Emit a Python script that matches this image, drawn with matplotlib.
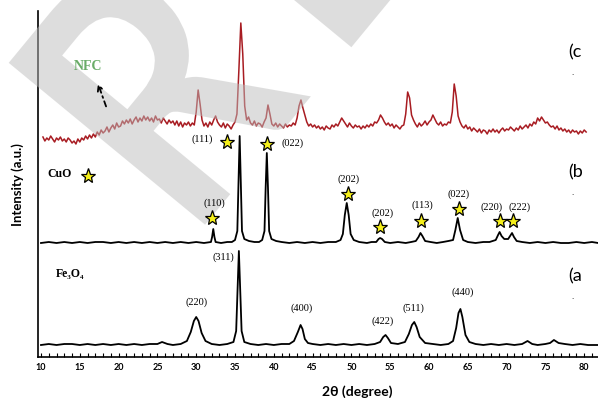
import matplotlib
matplotlib.use("Agg")
import matplotlib.pyplot as plt
import matplotlib.transforms as mtransforms
import numpy as np
from matplotlib.textpath import TextPath
from matplotlib.patches import PathPatch
from matplotlib.font_manager import FontProperties

# (a) Fe3O4 : 2theta / intensite au-dessus de la ligne de base
fe_2theta = [10, 11, 12, 13, 14, 15, 16, 17, 18, 19, 20, 21, 22, 23, 24, 25, 25.6, 26.3, 27, 28,
             28.8, 29.3, 29.7, 30.0, 30.3, 30.7, 31.2, 32, 33, 34, 34.8, 35.15, 35.35, 35.5, 35.65,
             35.85, 36.2, 37, 38, 39, 40, 41, 42, 42.6, 43.1, 43.45, 43.7, 44.0, 44.4, 45, 46, 47,
             48, 49, 50, 51, 52, 53, 53.7, 54.1, 54.4, 54.7, 55.1, 56, 56.9, 57.4, 57.8, 58.1, 58.4,
             58.8, 59.5, 60.5, 61.5, 62.5, 63.1, 63.5, 63.8, 64.05, 64.3, 64.7, 65.2, 66, 67, 68, 69,
             70, 71, 72, 72.7, 73.3, 74, 75, 75.6, 76.1, 76.7, 77.5, 78.5, 79.5, 80.5, 81.8]
fe_counts = [0, 1, 0, 1, 1, 0, 1, 0, 1, 0, 1, 0, 1, 0, 1, 1, 3, 1, 0, 1,
             4, 13, 24, 28, 24, 12, 4, 1, 0, 1, 3, 14, 60, 94, 60,
             14, 3, 1, 0, 1, 0, 1, 1, 4, 13, 20, 16, 6, 2, 1, 0, 1,
             0, 1, 0, 1, 0, 1, 3, 8, 10, 7, 2, 1, 3, 11, 20, 23, 18,
             8, 2, 1, 0, 1, 4, 17, 32, 36, 28, 10, 3, 1, 0, 1, 0,
             1, 0, 1, 4, 1, 0, 1, 2, 5, 2, 1, 0, 1, 0, 0]
fe_hkl = ["(220)", "(311)", "(400)", "(422)", "(511)", "(440)"]
fe_hkl_2theta = [30.0, 35.5, 43.45, 54.4, 58.1, 64.05]
fe_hkl_counts = [28, 94, 20, 10, 23, 36]

# (b) CuO
cuo_2theta = [10, 11, 12, 13, 14, 15, 16, 17, 18, 19, 20, 21, 22, 23, 24, 25, 26, 27, 28, 29, 30, 31,
              31.9, 32.05, 32.2, 32.35, 32.5, 33.2, 34, 34.6, 35.0, 35.3, 35.45, 35.6, 35.75, 35.9,
              36.2, 36.8, 37.5, 38.1, 38.5, 38.8, 38.95, 39.1, 39.25, 39.4, 39.7, 40.3, 41, 42, 43,
              44, 45, 46, 47, 48, 48.6, 48.9, 49.15, 49.4, 49.65, 49.9, 50.3, 51, 52, 52.6, 53.2,
              53.5, 53.7, 53.95, 54.3, 55, 56, 57, 57.7, 58.3, 58.65, 58.9, 59.15, 59.5, 60.2, 61,
              61.8, 62.5, 63.1, 63.4, 63.7, 64.0, 64.4, 65, 66, 67, 67.8, 68.6, 68.9, 69.1, 69.35,
              69.7, 70.2, 70.45, 70.7, 70.95, 71.3, 72, 73, 74, 75, 76, 77, 78, 79, 80, 81, 81.8]
cuo_counts = [0, 1, 0, 1, 0, 1, 0, 1, 1, 0, 1, 0, 1, 0, 1, 0, 1, 0, 1, 0, 1, 0,
              1, 6, 14, 6, 1, 0, 1, 1, 3, 12, 60, 107, 60, 12,
              4, 2, 1, 1, 3, 12, 55, 90, 55, 12, 4, 2, 1, 0, 1,
              0, 1, 0, 1, 1, 3, 9, 28, 40, 28, 9, 3, 1, 0, 1, 1,
              4, 5, 4, 1, 0, 1, 0, 1, 2, 6, 10, 7, 2, 1, 0,
              1, 2, 3, 13, 25, 13, 3, 1, 0, 1, 1, 3, 8, 11, 7,
              4, 4, 7, 10, 6, 2, 1, 0, 1, 0, 1, 0, 0, 1, 0, 1, 0]
cuo_hkl = ["(110)", "(111)", "(022)", "(202)", "(202)", "(113)", "(022)", "(220)", "(222)"]
cuo_star_2theta = [32.1, 34.0, 39.1, 49.6, 53.7, 59.0, 63.9, 69.1, 70.8]
cuo_star_counts = [25, 101, 99, 49, 16, 22, 34, 22, 22]

# (c) NFC, pas de 0.25 degre a partir de 10.25
nfc_start, nfc_step = 10.25, 0.25
nfc_counts = [
    5, 1, 4, 2,  6, 3, 0, 4,  2, 5, 1, 3,  0, 4, 2, -1,  1, -2, 3, 0,
    4, 2, 6, 3,  7, 4, 8, 5,  10, 7, 12, 9,  11, 15, 10, 14,  17, 13, 19, 15,
    16, 21, 18, 22,  19, 23, 18, 22,  25, 20, 24, 21,  26, 22, 25, 21,  24, 20, 26, 22,
    23, 19, 24, 21,  18, 22, 19, 21,  17, 21, 16, 20,  15, 19, 17, 20,  16, 19, 17, 30,
    52, 38, 22, 16,  19, 15, 20, 17,  22, 26, 20, 17,  15, 19, 14, 18,  16, 13, 17, 20,
    28, 72, 119, 88,  36, 22, 25, 19,  17, 21, 16, 19,  18, 15, 20, 24,  37, 28, 18, 16,
    19, 15, 18, 16,  14, 18, 15, 17,  16, 19, 17, 24,  36, 42, 34, 27,  20, 16, 18, 15,
    17, 14, 16, 13,  15, 12, 16, 14,  13, 17, 15, 18,  16, 20, 24, 21,  18, 15, 19, 16,
    14, 17, 15, 16,  13, 16, 14, 17,  15, 18, 16, 20,  19, 22, 27, 24,  20, 17, 19, 16,
    18, 14, 17, 15,  13, 16, 17, 28,  50, 44, 27, 22,  18, 15, 19, 16,  18, 21, 17, 20,
    22, 27, 23, 19,  17, 20, 16, 18,  17, 20, 19, 30,  58, 46, 26, 20,  16, 14, 17, 13,
    15, 11, 14, 12,  10, 13, 9, 12,  11, 8, 12, 10,  13, 10, 12, 9,  12, 14, 11, 13,
    12, 15, 13, 11,  14, 12, 16, 13,  15, 17, 14, 18,  16, 20, 18, 24,  21, 25, 22, 19,
    20, 17, 15, 16,  13, 16, 12, 14,  11, 13, 10, 12,  9, 12, 10, 11,  8, 11, 9, 12,
    10]

off_a, off_b, off_c = 12, 114, 215


def deg(px):
    # position horizontale (pixel de l'image) -> 2theta
    return 10 + (px - 41) / 7.76


def yy(py):
    return 357 - py


fig = plt.figure(figsize=(5.98, 3.98), dpi=100)
ax = fig.add_axes([38 / 598, 41 / 398, 560 / 598, 346 / 398])
ax.set_xlim(deg(38), deg(598))
ax.set_ylim(0, 346)

nfc_x = nfc_start + nfc_step * np.arange(len(nfc_counts))
ax.plot(nfc_x, np.array(nfc_counts) + off_c, color="#a81c22", lw=1.1, zorder=2)
ax.plot(cuo_2theta, np.array(cuo_counts) + off_b, color="black", lw=1.3, zorder=4)
ax.plot(fe_2theta, np.array(fe_counts) + off_a, color="black", lw=1.3, zorder=4)

serif = ["Liberation Serif", "DejaVu Serif"]
ax.plot(cuo_star_2theta, np.array(cuo_star_counts) + off_b, ls="none", marker="*",
        ms=11, mfc="#f5ef1a", mec="black", mew=0.9, zorder=6)

cuo_offsets = [(2, 15), (-25, 3), (26, 1), (0, 15), (2, 14), (1, 16), (-1, 15), (-8, 14), (7, 14)]
for lab, x, c, off in zip(cuo_hkl, cuo_star_2theta, cuo_star_counts, cuo_offsets):
    ax.annotate(lab, (x, c + off_b), xytext=off, textcoords="offset pixels",
                ha="center", va="center", fontsize=7.5, family=serif, zorder=7)

fe_offsets = [(0, 10), (-16, -11), (1, 12), (-3, 9), (-1, 9), (2, 12)]
for lab, x, c, off in zip(fe_hkl, fe_hkl_2theta, fe_hkl_counts, fe_offsets):
    ax.annotate(lab, (x, c + off_a), xytext=off, textcoords="offset pixels",
                ha="center", va="bottom", fontsize=7.5, family=serif, zorder=7)

# legendes des courbes
ax.text(deg(60), yy(174), "CuO", fontsize=8.5, fontweight="bold", family=serif,
        ha="center", va="center", zorder=7)
ax.plot([deg(88)], [yy(176)], marker="*", ms=11, mfc="#f5ef1a", mec="black", mew=0.9, zorder=7)
ax.text(deg(70), yy(274), "Fe₃O₄", fontsize=8.5, fontweight="bold", family=serif,
        ha="center", va="center", zorder=7)
ax.text(deg(88), yy(67), "NFC", fontsize=10, fontweight="bold", family=serif,
        color="#6aac68", ha="center", va="center", zorder=7)
ax.annotate("", xy=(deg(97), yy(81)), xytext=(deg(107), yy(109)), zorder=7,
            arrowprops=dict(arrowstyle="->", lw=1.3, ls=(0, (3, 2, 1, 2)), color="black"))

for lab, py in [("(c", 52), ("(b", 172), ("(a", 276)]:
    ax.text(deg(568), yy(py), lab, fontsize=13, family=["Lato", "DejaVu Sans"],
            ha="left", va="center")
    ax.text(deg(572), yy(py + 21), ".", fontsize=5, ha="center", va="center")

# filigrane : lettres R et E tournees, en pixels de l'image
fp = FontProperties(family="Lato", weight="bold")
r_glyph = TextPath((0, 0), "R", size=352, prop=fp)
e_glyph = TextPath((0, 0), "E", size=352, prop=fp)
r_x0 = r_glyph.vertices[:, 0].min()
sx = 190 / (r_glyph.vertices[:, 0].max() - r_x0)
e_x0 = e_glyph.vertices[:, 0].min()
for glyph, gx0, start in [(r_glyph, r_x0, 0), (e_glyph, e_x0, 230)]:
    tr = (mtransforms.Affine2D().translate(-gx0, 0).scale(sx, 1).translate(start, 0)
          .rotate_deg(50.5).translate(190, 398 - 243))
    patch = PathPatch(glyph, transform=tr, facecolor="#bdbdbd", edgecolor="none",
                      alpha=0.5, zorder=3)
    ax.add_artist(patch)
    patch.set_clip_on(False)

for s in ["top", "right"]:
    ax.spines[s].set_visible(False)
ax.spines["left"].set_linewidth(1.2)
ax.spines["bottom"].set_linewidth(1.2)
ax.set_yticks([])
ax.set_xticks(np.arange(10, 81, 5))
ax.set_xticks(np.arange(10, 82, 1), minor=True)
ax.tick_params(axis="x", which="both", direction="in", length=3, width=0.8, pad=4)
for t in ax.get_xticklabels():
    t.set_fontsize(6.5)
    t.set_fontweight("bold")
    t.set_family(["Lato", "DejaVu Sans"])

fig.text(357 / 598, 1 - 392 / 398, "2θ (degree)", fontsize=10, fontweight="bold",
         family=["Lato", "DejaVu Sans"], ha="center", va="center")
fig.text(18 / 598, 1 - 185 / 398, "Intensity (a.u.)", fontsize=9.5, fontweight="bold",
         family=["Lato", "DejaVu Sans"], rotation=90, ha="center", va="center")

fig.savefig("out.png", dpi=100)
